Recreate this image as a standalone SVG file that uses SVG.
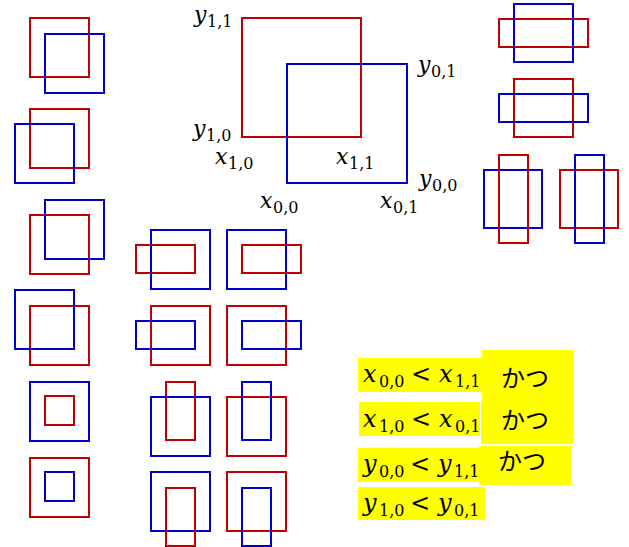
<svg xmlns="http://www.w3.org/2000/svg" width="629" height="547" viewBox="0 0 629 547">
<style>
.r{fill:none;stroke:#C00000;stroke-width:2}
.b{fill:none;stroke:#0000C8;stroke-width:2}
.m{font-family:"DejaVu Serif","Liberation Serif",serif;font-style:italic;font-size:22px;fill:#000}
.s{font-family:"DejaVu Serif","Liberation Serif",serif;font-size:16px;fill:#000}
.M{font-family:"DejaVu Serif","Liberation Serif",serif;font-style:italic;font-size:24px;fill:#000}
.S{font-family:"DejaVu Serif","Liberation Serif",serif;font-size:16px;fill:#000}
.lt{font-family:"DejaVu Serif","Liberation Serif",serif;font-size:24px;fill:#000}
.k{font-family:"Noto Sans CJK JP","Noto Sans CJK SC",sans-serif;font-size:24px;fill:#000}
.y{fill:#FFFF00}
</style>
<rect width="629" height="547" fill="#fff"/>
<g id="connectors"/>
<g id="a1"><rect class="r" x="30" y="18" width="59" height="59"/><rect class="b" x="45" y="34" width="59" height="59"/></g>
<g id="a2"><rect class="r" x="30" y="109" width="59" height="59"/><rect class="b" x="15" y="124" width="59" height="59"/></g>
<g id="a3"><rect class="r" x="30" y="215" width="59" height="59"/><rect class="b" x="45" y="200" width="59" height="59"/></g>
<g id="a4"><rect class="r" x="30" y="306" width="59" height="59"/><rect class="b" x="15" y="290" width="59" height="59"/></g>
<g id="a5"><rect class="b" x="30" y="382" width="59" height="59"/><rect class="r" x="45" y="396" width="29" height="29"/></g>
<g id="a6"><rect class="r" x="30" y="458" width="59" height="59"/><rect class="b" x="45" y="472" width="29" height="29"/></g>
<g id="main"><rect class="r" x="242" y="18" width="119" height="119"/><rect class="b" x="287" y="64" width="120" height="119"/></g>
<g id="labels">
<text class="m" x="194" y="22">y</text><text class="s" x="207" y="27">1,1</text>
<text class="m" x="418" y="72">y</text><text class="s" x="431" y="77">0,1</text>
<text class="m" x="193" y="136">y</text><text class="s" x="206" y="141">1,0</text>
<text class="m" x="215" y="164">x</text><text class="s" x="228" y="169">1,0</text>
<text class="m" x="336" y="164">x</text><text class="s" x="349" y="169">1,1</text>
<text class="m" x="419" y="186">y</text><text class="s" x="432" y="191">0,0</text>
<text class="m" x="260" y="208">x</text><text class="s" x="273" y="213">0,0</text>
<text class="m" x="380" y="208">x</text><text class="s" x="393" y="213">0,1</text>
</g>
<g id="b1"><rect class="r" x="499" y="19" width="89" height="28"/><rect class="b" x="514" y="4" width="59" height="58"/></g>
<g id="b2"><rect class="r" x="514" y="79" width="59" height="58"/><rect class="b" x="499" y="94" width="89" height="28"/></g>
<g id="b3"><rect class="b" x="484" y="170" width="58" height="58"/><rect class="r" x="499" y="155" width="29" height="88"/></g>
<g id="b4"><rect class="r" x="560" y="170" width="58" height="58"/><rect class="b" x="575" y="155" width="29" height="88"/></g>
<g id="c1"><rect class="r" x="136" y="245" width="59" height="28"/><rect class="b" x="151" y="230" width="59" height="59"/></g>
<g id="c2"><rect class="b" x="227" y="230" width="59" height="59"/><rect class="r" x="242" y="245" width="59" height="28"/></g>
<g id="c3"><rect class="r" x="151" y="306" width="59" height="59"/><rect class="b" x="136" y="321" width="59" height="28"/></g>
<g id="c4"><rect class="r" x="227" y="306" width="59" height="59"/><rect class="b" x="242" y="321" width="59" height="28"/></g>
<g id="c5"><rect class="r" x="166" y="382" width="29" height="58"/><rect class="b" x="151" y="397" width="59" height="59"/></g>
<g id="c6"><rect class="r" x="227" y="397" width="59" height="59"/><rect class="b" x="242" y="382" width="29" height="58"/></g>
<g id="c7"><rect class="b" x="151" y="472" width="59" height="59"/><rect class="r" x="166" y="488" width="29" height="58"/></g>
<g id="c8"><rect class="r" x="227" y="472" width="59" height="59"/><rect class="b" x="242" y="488" width="29" height="58"/></g>
<g id="conditions">
<rect class="y" x="358" y="358" width="124" height="34"/>
<rect class="y" x="359" y="402" width="121" height="34"/>
<rect class="y" x="358" y="448" width="121" height="34"/>
<rect class="y" x="358" y="487" width="127" height="33"/>
<rect class="y" x="482" y="350" width="91" height="52"/>
<rect class="y" x="481" y="402" width="92" height="42"/>
<rect class="y" x="479" y="446" width="92" height="39"/>
<text class="M" x="363" y="382">x</text><text class="S" x="379" y="387">0,0</text>
<text class="lt" x="411" y="382">&lt;</text>
<text class="M" x="439" y="382">x</text><text class="S" x="455" y="387">1,1</text>
<text class="M" x="363" y="427">x</text><text class="S" x="379" y="432">1,0</text>
<text class="lt" x="411" y="427">&lt;</text>
<text class="M" x="439" y="427">x</text><text class="S" x="455" y="432">0,1</text>
<text class="M" x="363" y="472">y</text><text class="S" x="379" y="477">0,0</text>
<text class="lt" x="410" y="472">&lt;</text>
<text class="M" x="438" y="472">y</text><text class="S" x="454" y="477">1,1</text>
<text class="M" x="363" y="511">y</text><text class="S" x="379" y="516">1,0</text>
<text class="lt" x="410" y="511">&lt;</text>
<text class="M" x="438" y="511">y</text><text class="S" x="454" y="516">0,1</text>
<text class="k" x="501" y="387">かつ</text>
<text class="k" x="501" y="429">かつ</text>
<text class="k" x="498" y="470">かつ</text>
</g>
</svg>
